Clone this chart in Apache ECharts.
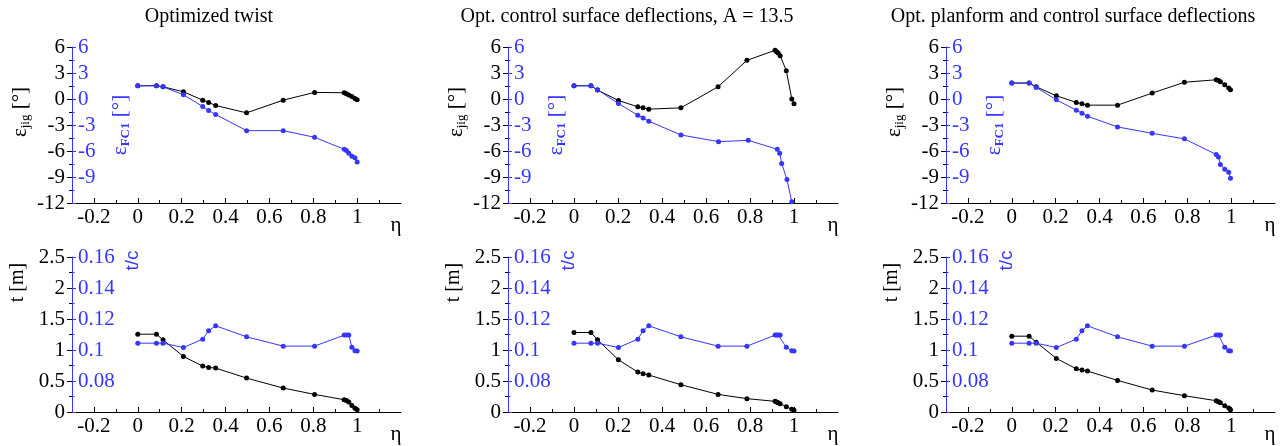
<!DOCTYPE html>
<html>
<head>
<meta charset="utf-8">
<script src="https://cdn.jsdelivr.net/npm/echarts@6/dist/echarts.min.js"></script>
<style>
  html, body { margin: 0; padding: 0; background: #fff; }
  #chart { width: 1282px; height: 446px; }
</style>
</head>
<body>
<div id="chart"></div>
<script>
// panel titles
const titles = [
  'Optimized twist',
  'Opt. control surface deflections, A = 13.5',
  'Opt. planform and control surface deflections'
]

// column 1 - optimized twist
const eta1 = [0, 0.085, 0.115, 0.208, 0.296, 0.323, 0.355, 0.496, 0.663, 0.806, 0.941, 0.951, 0.962, 0.976, 0.99, 1.0]
const jig1 = [1.53, 1.53, 1.41, 0.83, -0.13, -0.4, -0.75, -1.6, -0.13, 0.76, 0.72, 0.6, 0.45, 0.3, 0.05, -0.08]
const fc1 = [1.53, 1.53, 1.41, 0.49, -0.86, -1.33, -1.79, -3.65, -3.65, -4.42, -5.8, -5.95, -6.25, -6.6, -6.78, -7.28]
const t1 = [1.255, 1.255, 1.164, 0.896, 0.74, 0.719, 0.708, 0.547, 0.386, 0.284, 0.198, 0.185, 0.16, 0.105, 0.06, 0.035]
const tc1 = [0.1044, 0.1044, 0.1044, 0.1016, 0.107, 0.1124, 0.1156, 0.1085, 0.1025, 0.1025, 0.1096, 0.1096, 0.1096, 0.1017, 0.0995, 0.0993]

// column 2 - control surface deflections
const eta2 = [0, 0.077, 0.107, 0.202, 0.29, 0.314, 0.34, 0.486, 0.655, 0.786, 0.914, 0.921, 0.928, 0.937, 0.965, 0.99, 1.0]
const jig2 = [1.53, 1.53, 1.03, -0.17, -0.9, -1.02, -1.17, -1.02, 1.41, 4.46, 5.62, 5.45, 5.31, 5.0, 3.27, 0.0, -0.56]
const etaFc2 = [0, 0.077, 0.107, 0.202, 0.29, 0.314, 0.34, 0.486, 0.657, 0.792, 0.924, 0.935, 0.944, 0.968, 0.99]
const fc2 = [1.53, 1.53, 1.07, -0.52, -1.87, -2.18, -2.56, -4.15, -4.92, -4.77, -5.8, -6.27, -7.43, -9.28, -11.87]
const t2 = [1.282, 1.282, 1.164, 0.842, 0.644, 0.617, 0.596, 0.44, 0.284, 0.215, 0.172, 0.16, 0.15, 0.135, 0.086, 0.043, 0.027]
const tc2 = [0.1044, 0.1044, 0.1044, 0.1016, 0.107, 0.1124, 0.1156, 0.1085, 0.1025, 0.1025, 0.1096, 0.1096, 0.1096, 0.1096, 0.1017, 0.0995, 0.0993]

// column 3 - planform and control surface deflections
const eta3 = [0, 0.079, 0.111, 0.203, 0.294, 0.32, 0.345, 0.482, 0.64, 0.787, 0.932, 0.942, 0.951, 0.971, 0.989, 0.997]
const jig3 = [1.84, 1.84, 1.41, 0.37, -0.4, -0.56, -0.71, -0.71, 0.68, 1.93, 2.22, 2.13, 1.98, 1.65, 1.26, 1.08]
const fc3 = [1.84, 1.84, 1.34, -0.09, -1.29, -1.64, -1.99, -3.22, -3.96, -4.6, -6.4, -6.7, -7.55, -8.1, -8.44, -9.15]
const t3 = [1.223, 1.223, 1.127, 0.864, 0.697, 0.676, 0.66, 0.51, 0.354, 0.263, 0.182, 0.166, 0.15, 0.102, 0.064, 0.038]
const tc3 = [0.1044, 0.1044, 0.1044, 0.1016, 0.107, 0.1124, 0.1156, 0.1085, 0.1025, 0.1025, 0.1096, 0.1096, 0.1096, 0.1017, 0.0995, 0.0993]

// axis ticks
const etaTicks = [-0.2, 0, 0.2, 0.4, 0.6, 0.8, 1]
const etaMinorTicks = [-0.1, 0.1, 0.3, 0.5, 0.7, 0.9, 1.1]

const BLUE = '#3636ff'
const FONT = '"Liberation Serif", "Times New Roman", serif'

const panels = [
  [{ black: [eta1, jig1], blue: [eta1, fc1] }, { black: [eta1, t1], blue: [eta1, tc1] }],
  [{ black: [eta2, jig2], blue: [etaFc2, fc2] }, { black: [eta2, t2], blue: [eta2, tc2] }],
  [{ black: [eta3, jig3], blue: [eta3, fc3] }, { black: [eta3, t3], blue: [eta3, tc3] }]
]

const colLeft = [72, 508, 946]
const colWidth = [329, 330, 329]
const colCenter = [209, 627, 1073]
const rowTop = [47, 257]
const rowHeight = [156, 155]

const pairs = (xs, ys) => xs.map((x, i) => [x, ys[i]])

const option = {
  animation: false,
  backgroundColor: '#fff',
  grid: [],
  xAxis: [],
  yAxis: [],
  series: [],
  graphic: titles.map((t, c) => ({
    type: 'text',
    x: colCenter[c],
    y: 17,
    style: {
      text: t,
      fontFamily: FONT,
      fontSize: 20,
      fill: '#000',
      align: 'center',
      verticalAlign: 'middle'
    }
  }))
}

const labelStyle = { fontFamily: FONT, fontSize: 21 }

for (let r = 0; r < 2; r++) {
  for (let c = 0; c < 3; c++) {
    const g = option.grid.length
    option.grid.push({
      left: colLeft[c],
      width: colWidth[c],
      top: rowTop[r],
      height: rowHeight[r],
      containLabel: false
    })
    // main eta axis
    option.xAxis.push({
      type: 'value',
      gridIndex: g,
      position: 'bottom',
      min: -0.3,
      max: 1.2,
      name: 'η',
      nameLocation: 'end',
      nameGap: -5,
      nameTextStyle: {
        fontFamily: FONT, fontSize: 21, color: '#000',
        align: 'center', verticalAlign: 'top', padding: [12, 0, 0, 0]
      },
      axisLine: { onZero: false, lineStyle: { color: '#000', width: 1 } },
      axisTick: { inside: true, length: 5, customValues: etaTicks, lineStyle: { color: '#000' } },
      axisLabel: { ...labelStyle, color: '#000', margin: 4, customValues: etaTicks },
      splitLine: { show: false }
    })
    // minor eta ticks, same scale, same bottom line
    option.xAxis.push({
      type: 'value',
      gridIndex: g,
      position: 'bottom',
      min: -0.3,
      max: 1.2,
      axisLine: { show: false, onZero: false },
      axisTick: { inside: true, length: 3, customValues: etaMinorTicks, lineStyle: { color: '#000' } },
      axisLabel: { show: false },
      splitLine: { show: false }
    })
    const top = r === 0
    // black (left, outer) axis
    option.yAxis.push({
      type: 'value',
      gridIndex: g,
      position: 'left',
      min: top ? -12 : 0,
      max: top ? 6 : 2.5,
      interval: top ? 3 : 0.5,
      name: top ? '{e|ε}{s|jig}{e| [°]}' : 't [m]',
      nameLocation: 'middle',
      nameGap: top ? 40 : 44,
      nameTextStyle: top
        ? {
            color: '#000',
            padding: [0, 0, 0, 26],
            rich: {
              e: { fontFamily: FONT, fontSize: 21, color: '#000', lineHeight: 24 },
              s: { fontFamily: FONT, fontSize: 13, color: '#000', lineHeight: 13, verticalAlign: 'bottom' }
            }
          }
        : { fontFamily: FONT, fontSize: 20, color: '#000', padding: [0, 0, 0, 104] },
      axisLine: { show: false, onZero: false },
      axisTick: { show: true, length: 5, lineStyle: { color: '#000' } },
      minorTick: { show: true, splitNumber: 2, length: 3, lineStyle: { color: '#000' } },
      axisLabel: { ...labelStyle, color: '#000', margin: 7 },
      splitLine: { show: false }
    })
    // blue (inner) axis
    option.yAxis.push({
      type: 'value',
      gridIndex: g,
      position: 'left',
      min: top ? -12 : 0.06,
      max: top ? 6 : 0.16,
      interval: top ? 3 : 0.02,
      name: top ? '{e|ε}{s|FC1}{e| [°]}' : 't/c',
      nameLocation: 'middle',
      nameGap: top ? -60 : -70,
      nameTextStyle: top
        ? {
            color: BLUE,
            rich: {
              e: { fontFamily: FONT, fontSize: 21, color: BLUE, lineHeight: 24 },
              s: { fontFamily: FONT, fontSize: 13, fontWeight: 'bold', color: BLUE, lineHeight: 13, verticalAlign: 'bottom' }
            }
          }
        : { fontFamily: '"Liberation Sans", Arial, sans-serif', fontSize: 19, color: BLUE, padding: [0, 0, 0, 148] },
      axisLine: { show: true, onZero: false, lineStyle: { color: BLUE, width: 1 } },
      axisTick: { show: true, inside: true, length: 4, lineStyle: { color: BLUE } },
      minorTick: { show: true, splitNumber: 2, length: 2.5, lineStyle: { color: BLUE } },
      axisLabel: {
        ...labelStyle,
        color: BLUE,
        inside: true,
        margin: 6,
        formatter: v => (top ? (v <= -12 ? '' : String(v)) : (v < 0.07 ? '' : String(+v.toFixed(2))))
      },
      splitLine: { show: false }
    })

    const p = panels[c][r]
    option.series.push({
      type: 'line',
      xAxisIndex: 2 * g,
      yAxisIndex: 2 * g,
      data: pairs(p.black[0], p.black[1]),
      symbol: 'circle',
      symbolSize: 5,
      color: '#000',
      lineStyle: { color: '#000', width: 1 },
      itemStyle: { color: '#000' },
      z: 2
    })
    option.series.push({
      type: 'line',
      xAxisIndex: 2 * g,
      yAxisIndex: 2 * g + 1,
      data: pairs(p.blue[0], p.blue[1]),
      symbol: 'circle',
      symbolSize: 5,
      color: BLUE,
      lineStyle: { color: BLUE, width: 1 },
      itemStyle: { color: BLUE },
      z: 3
    })
  }
}

const chart = echarts.init(document.getElementById('chart'))
chart.setOption(option)
</script>
</body>
</html>
